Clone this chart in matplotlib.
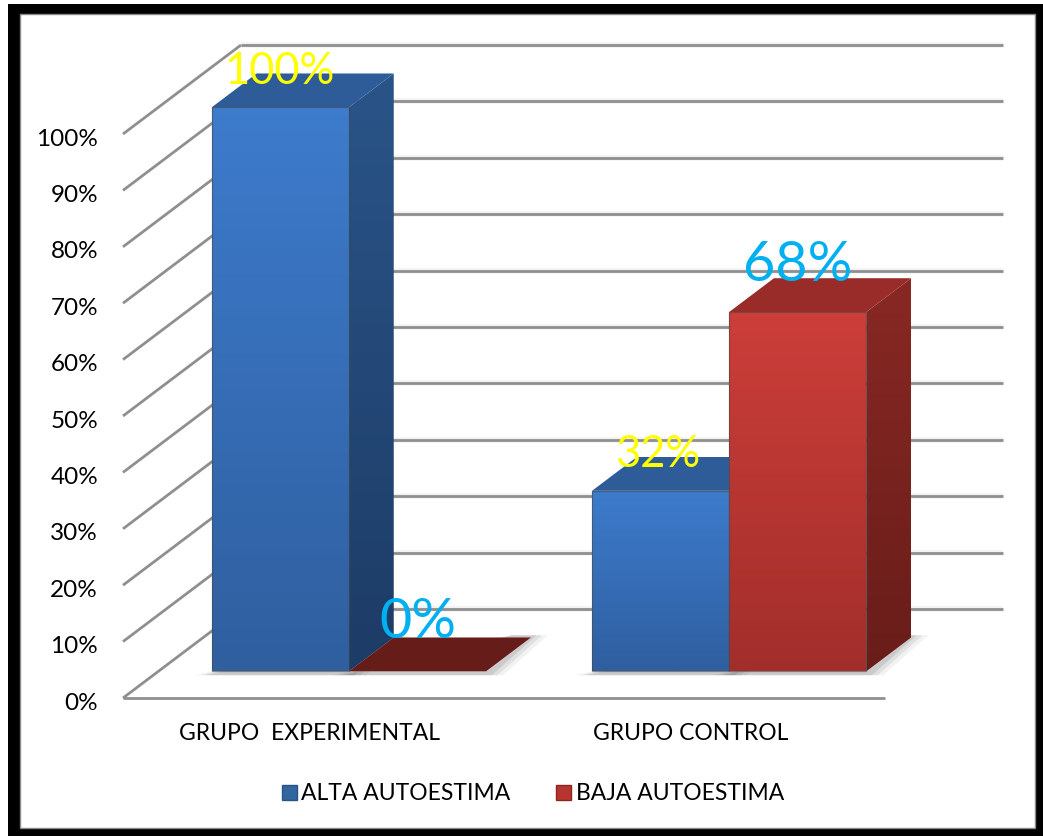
import numpy as np
import matplotlib
matplotlib.use('Agg')
import matplotlib.pyplot as plt
from matplotlib.colors import to_rgb
from matplotlib.patches import Patch, Polygon, Rectangle
from matplotlib.transforms import ScaledTranslation

plt.rcParams['font.family'] = ['Lato', 'DejaVu Sans']

# data
grupos = ['GRUPO  EXPERIMENTAL', 'GRUPO CONTROL']
series = ['ALTA AUTOESTIMA', 'BAJA AUTOESTIMA']
alta = [100, 32]
baja = [0, 68]
# en la imagen la barra roja del 68% llega solo hasta cerca de 64 en la escala
baja_altura = [0, 63.7]
y_ticks = [0, 10, 20, 30, 40, 50, 60, 70, 80, 90, 100]

W, H = 1043, 836
fig = plt.figure(figsize=(W / 100, H / 100), dpi=100, facecolor='white')

# marco negro
fig.add_artist(Rectangle((8 / W, 0), (W - 8) / W, (H - 4) / H, transform=fig.transFigure,
                         facecolor='black', edgecolor='none', zorder=-5))
fig.add_artist(Rectangle((20 / W, 8 / H), 1015 / W, 814 / H, transform=fig.transFigure,
                         facecolor='white', edgecolor='#8a8a8a', linewidth=1, zorder=-4))

# el plano frontal del grafico
ax = fig.add_axes([123 / W, 1 - 698 / H, 762 / W, 564 / H])
ax.patch.set_visible(False)
for s in ax.spines.values():
    s.set_visible(False)

# perspectiva: cuanto se mueve un punto al pasar del frente al fondo
DX = 118 / 381
DY = 89 / 5.64
BAR_W = 0.36
D_FRONT = 0.30
D_BACK = 0.68


def proj(x, y, d):
    return x + d * DX, y + d * DY


def line(p, q, **kw):
    ax.plot([p[0], q[0]], [p[1], q[1]], clip_on=False, solid_capstyle='butt', **kw)


def grad_poly(pts, c_top, c_bottom, z, edge=None):
    pts = np.array(pts)
    x0, x1 = pts[:, 0].min(), pts[:, 0].max()
    y0, y1 = pts[:, 1].min(), pts[:, 1].max()
    c = np.linspace(to_rgb(c_top), to_rgb(c_bottom), 64).reshape(64, 1, 3)
    im = ax.imshow(c, extent=[x0, x1, y0, y1], origin='upper', aspect='auto', zorder=z)
    poly = Polygon(pts, closed=True, transform=ax.transData, facecolor='none', edgecolor='none')
    ax.add_patch(poly)
    poly.set_clip_on(False)
    im.set_clip_path(poly)
    im.set_clip_box(fig.bbox)
    if edge:
        ax.add_patch(Polygon(pts, closed=True, facecolor='none', edgecolor=edge, linewidth=0.9,
                             alpha=0.6, clip_on=False, zorder=z + 0.01))


def bar3d(x0, val, cols, z):
    x1 = x0 + BAR_W
    fbl, fbr = proj(x0, 0, D_FRONT), proj(x1, 0, D_FRONT)
    ftl, ftr = proj(x0, val, D_FRONT), proj(x1, val, D_FRONT)
    bbr, btl, btr = proj(x1, 0, D_BACK), proj(x0, val, D_BACK), proj(x1, val, D_BACK)

    # sombra en el suelo
    for grow, a in [(0.045, 0.05), (0.03, 0.07), (0.015, 0.09)]:
        ax.add_patch(Polygon([(fbl[0] - grow, fbl[1] - 0.7), (fbr[0] + grow, fbr[1] - 0.7),
                              (bbr[0] + grow, bbr[1] + 0.4), (bbr[0] - 0.05, bbr[1] + 0.4)],
                             facecolor='black', edgecolor='none', alpha=a, clip_on=False, zorder=1.5))
    if val == 0:
        ax.add_patch(Polygon([ftl, ftr, btr, btl], facecolor=cols['zero'], edgecolor='none',
                             clip_on=False, zorder=z))
        return
    grad_poly([ftr, fbr, bbr, btr], cols['side_top'], cols['side_bot'], z)
    ax.add_patch(Polygon([ftl, ftr, btr, btl], facecolor=cols['top'], edgecolor='none',
                         clip_on=False, zorder=z + 0.02))
    grad_poly([fbl, fbr, ftr, ftl], cols['front_top'], cols['front_bot'], z + 0.03, edge='#4a4a4a')


azul = dict(front_top='#3d7bcc', front_bot='#2f5f9f', side_top='#2a5488', side_bot='#1d3c66',
            top='#2d5c98', zero='#2d5c98')
rojo = dict(front_top='#cc3e39', front_bot='#a22e2b', side_top='#882824', side_bot='#691d19',
            top='#992b28', zero='#661c18')

# rejilla: suelo, pared lateral y pared del fondo
GRID = '#8f8f8f'
for t in y_ticks:
    line(proj(0, t, 0), proj(0, t, 1), color=GRID, lw=2, zorder=1)
    line(proj(0, t, 1), proj(2, t, 1), color='black', lw=4, alpha=0.05, zorder=0.9)
    line(proj(0, t, 1), proj(2, t, 1), color=GRID, lw=2, zorder=1)
line(proj(0, 0, 0), proj(2, 0, 0), color=GRID, lw=2, zorder=1)

# barras
starts = [0.14, 1.138]
for i in range(len(grupos)):
    bar3d(starts[i], alta[i], azul, 2 + i)
    bar3d(starts[i] + BAR_W, baja_altura[i], rojo, 2.5 + i)

# etiquetas de datos
etiquetas = [(starts[0] + BAR_W / 2, alta[0], f'{alta[0]}%', '#ffff00', 32, (-33, 1.6)),
             (starts[0] + BAR_W * 1.5, baja_altura[0], f'{baja[0]}%', '#00b0f0', 41, (-32, 11)),
             (starts[1] + BAR_W / 2, alta[1], f'{alta[1]}%', '#ffff00', 32, (-34.5, 2)),
             (starts[1] + BAR_W * 1.5, baja_altura[1], f'{baja[1]}%', '#00b0f0', 41, (-32, 9))]
for x, v, txt, col, size, off in etiquetas:
    px, py = proj(x, v, D_BACK)
    ax.annotate(txt, (px, py), xytext=off, textcoords='offset points', ha='center', va='center',
                color=col, fontsize=size * 0.98, zorder=10, annotation_clip=False)

# ejes
ax.set_xlim(0, 2)
ax.set_ylim(0, 100)
ax.set_yticks(y_ticks)
ax.set_yticklabels([f'{t}%' for t in y_ticks], fontsize=17.5, color='black')
ax.set_xticks([0.5, 1.5])
ax.set_xticklabels(grupos, fontsize=16.5, color='black')
ax.tick_params(axis='y', length=0, pad=18)
ax.tick_params(axis='x', length=0, pad=18)
shift_x = ScaledTranslation(-4 / 100, 0, fig.dpi_scale_trans)
for lab in ax.get_xticklabels():
    lab.set_transform(lab.get_transform() + shift_x)
shift_y = ScaledTranslation(0, -3 / 100, fig.dpi_scale_trans)
for lab in ax.get_yticklabels():
    lab.set_transform(lab.get_transform() + shift_y)

# leyenda
handles = [Patch(facecolor='#33659f', edgecolor='#2a5488', label=series[0]),
           Patch(facecolor='#b8342f', edgecolor='#8a2723', label=series[1])]
fig.legend(handles=handles, loc='center', bbox_to_anchor=(533 / W, 1 - 794 / H), ncol=2,
           frameon=False, fontsize=16.5, handlelength=0.65, handleheight=0.65, handletextpad=0.2,
           columnspacing=2.0, borderpad=0)

fig.savefig('out.png', dpi=100, facecolor='white')
